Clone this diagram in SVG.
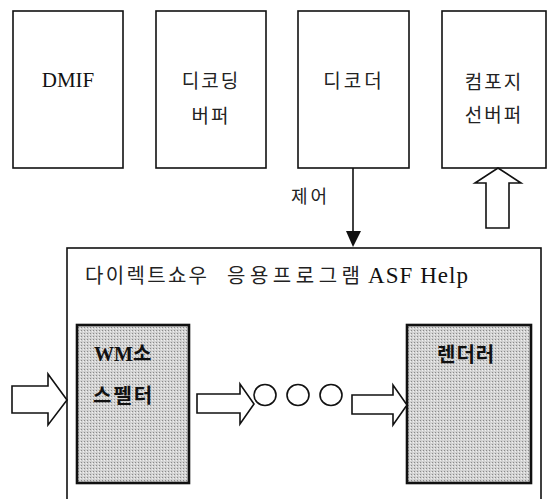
<svg xmlns="http://www.w3.org/2000/svg" width="548" height="499" viewBox="0 0 548 499">
<style>
.box{fill:#fff;stroke:#111;stroke-width:1.6}
.gbox{fill:url(#dots);stroke:#111;stroke-width:2.6}
.hollow{fill:#fff;stroke:#111;stroke-width:1.6;stroke-linejoin:miter}
.kr{font-family:"Noto Sans CJK KR","Noto Sans",sans-serif;font-size:19px;fill:#222;letter-spacing:2px}
.tkr{font-family:"Noto Sans CJK KR","Noto Sans",sans-serif;font-size:20px;fill:#222}
.en{font-family:"Liberation Serif","Times New Roman",serif;font-size:21px;fill:#111}
.bkr{font-family:"Liberation Serif","Noto Sans CJK KR",serif;font-size:20px;font-weight:bold;fill:#111}
.mid{text-anchor:middle}
</style>
<defs>
<pattern id="dots" width="3" height="3" patternUnits="userSpaceOnUse">
<rect width="3" height="3" fill="#d2d2d2"/>
<rect width="1" height="1" fill="#8a8a8a"/>
<rect x="2" y="1" width="1" height="1" fill="#f0f0f0"/>
</pattern>
</defs>
<g id="dmif">
<rect class="box" x="13" y="11" width="110" height="157"/>
<text class="en mid" x="68" y="87">DMIF</text>
</g>
<g id="decoding-buffer">
<rect class="box" x="156" y="11" width="110" height="157"/>
<text class="kr mid" x="211" y="88">디코딩</text>
<text class="kr mid" x="211" y="123">버퍼</text>
</g>
<g id="decoder">
<rect class="box" x="298" y="11" width="111" height="157"/>
<text class="kr mid" x="354" y="88" style="letter-spacing:3px">디코더</text>
</g>
<g id="composition-buffer">
<rect class="box" x="442" y="11" width="104" height="157"/>
<text class="kr mid" x="494" y="89">컴포지</text>
<text class="kr mid" x="494" y="122">선버퍼</text>
</g>
<g id="directshow-app">
<rect class="box" x="67" y="248" width="474" height="270"/>
<text class="tkr" x="85" y="283" textLength="122" lengthAdjust="spacing">다이렉트쇼우</text>
<text class="tkr" x="227" y="283" textLength="133" lengthAdjust="spacing">응용프로그램</text>
<text class="en" x="368" y="283" style="font-size:23px" textLength="100" lengthAdjust="spacing">ASF Help</text>
</g>
<g id="wm-splitter">
<rect class="gbox" x="77" y="325" width="112" height="158"/>
<text class="bkr" x="94" y="361">WM소</text>
<text class="bkr" x="93" y="403" style="letter-spacing:2px">스펠터</text>
</g>
<g id="renderer">
<rect class="gbox" x="407" y="325" width="124" height="158"/>
<text class="bkr" x="437" y="362" style="letter-spacing:1px">렌더러</text>
</g>
<g id="dots-ellipsis">
<ellipse cx="265" cy="395" rx="11" ry="10.5" fill="none" stroke="#111" stroke-width="1.6"/>
<ellipse cx="298" cy="395" rx="11" ry="10.5" fill="none" stroke="#111" stroke-width="1.6"/>
<ellipse cx="331" cy="395" rx="11" ry="10.5" fill="none" stroke="#111" stroke-width="1.6"/>
</g>
<g id="connectors">
<line x1="353" y1="168" x2="353" y2="232" stroke="#111" stroke-width="1.6"/>
<polygon points="346,231 361,231 353,247" fill="#111"/>
<text class="kr" x="291" y="203" style="font-size:18px;letter-spacing:3px">제어</text>
<polygon class="hollow" points="498,168 521,183 509,183 509,228 486,228 486,183 475,183"/>
<polygon class="hollow" points="12,386 48,386 48,374 67,400 48,425 48,413 12,413"/>
<polygon class="hollow" points="197,394 240,394 240,384 254,404 240,424 240,413 197,413"/>
<polygon class="hollow" points="352,395 393,395 393,385 407,405 393,425 393,414 352,414"/>
</g>
</svg>
